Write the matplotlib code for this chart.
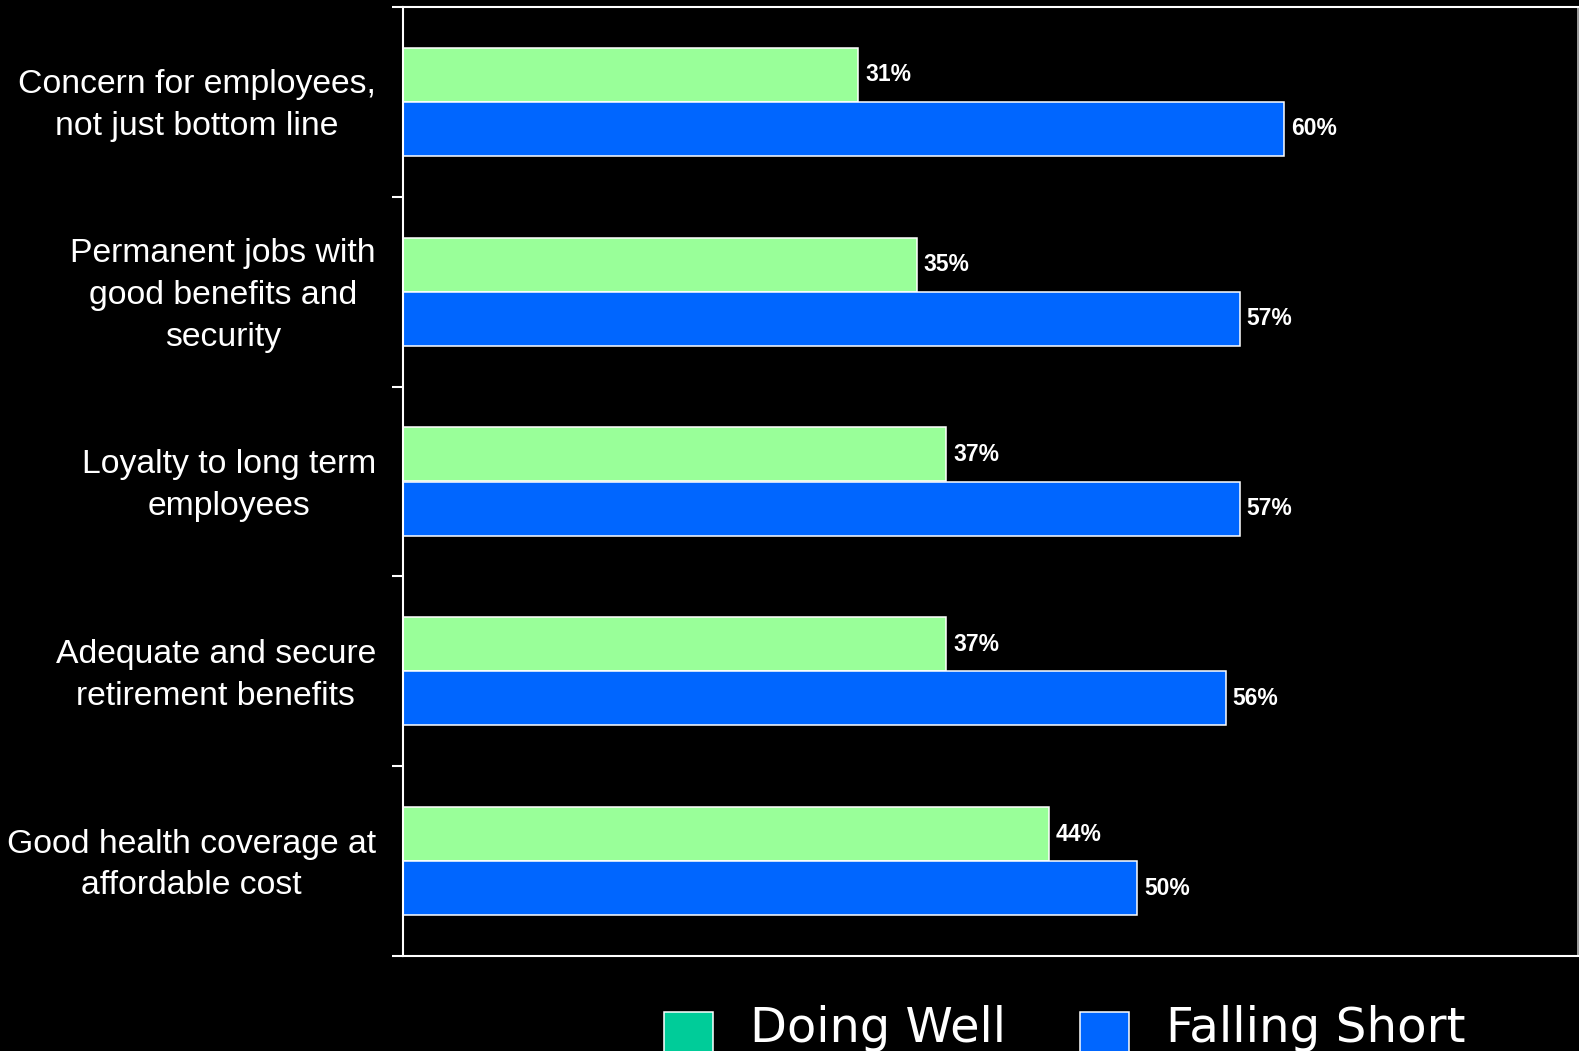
import matplotlib
matplotlib.use('Agg')
import matplotlib.pyplot as plt
from matplotlib.patches import Rectangle
from matplotlib.transforms import ScaledTranslation
import numpy as np

categories = [
    'Concern for employees,\nnot just bottom line',
    'Permanent jobs with\ngood benefits and\nsecurity',
    'Loyalty to long term\nemployees',
    'Adequate and secure\nretirement benefits',
    'Good health coverage at\naffordable cost',
]
doing_well = [31, 35, 37, 37, 44]
falling_short = [60, 57, 57, 56, 50]
series_names = ['Doing Well', 'Falling Short']

bar_green = '#99FF99'
legend_green = '#00CC99'
blue = '#0066FF'

fig = plt.figure(figsize=(15.79, 10.51), dpi=100, facecolor='black')
ax = fig.add_axes([403/1579, 1-956/1051, 1175/1579, 949/1051])
ax.set_facecolor('black')

n = len(categories)
y = np.arange(n)
h = 0.285
ax.barh(y - h/2, doing_well, height=h, color=bar_green, edgecolor='white', linewidth=1.1)
ax.barh(y + h/2, falling_short, height=h, color=blue, edgecolor='white', linewidth=1.1)

for i in range(n):
    ax.text(doing_well[i] + 0.45, y[i] - h/2, '%d%%' % doing_well[i], color='white',
            fontsize=16.5, fontweight='bold', va='center', ha='left', family='Liberation Sans')
    ax.text(falling_short[i] + 0.45, y[i] + h/2, '%d%%' % falling_short[i], color='white',
            fontsize=16.5, fontweight='bold', va='center', ha='left', family='Liberation Sans')

ax.set_xlim(0, 80)
ax.set_ylim(n - 0.5, -0.5)

# boundary ticks (major) and label ticks (minor)
ax.set_yticks(np.arange(n + 1) - 0.5)
ax.set_yticklabels([])
ax.set_yticks(y, minor=True)
ax.set_yticklabels(categories, minor=True, fontsize=24.3, color='white',
                   family='Liberation Sans', multialignment='center', linespacing=1.45)
ax.tick_params(axis='y', which='major', length=8, width=1.5, color='white', direction='out')
ax.tick_params(axis='y', which='minor', length=0, pad=19.5)
ax.set_xticks([])
shift = ScaledTranslation(0, 5/100, fig.dpi_scale_trans)
for lab in ax.get_yticklabels(minor=True):
    lab.set_transform(lab.get_transform() + shift)

for s in ['left', 'top', 'bottom']:
    ax.spines[s].set_color('white')
    ax.spines[s].set_linewidth(1.5)
ax.spines['right'].set_color('#bbbbbb')
ax.spines['right'].set_linewidth(1.2)

# legend along the bottom edge (partly cut off)
fig.patches.append(Rectangle((664/1579, -0.03), 49/1579, 0.03 + 1 - 1012/1051,
                             transform=fig.transFigure, facecolor=legend_green,
                             edgecolor='white', linewidth=1.1))
fig.patches.append(Rectangle((1080/1579, -0.03), 49/1579, 0.03 + 1 - 1012/1051,
                             transform=fig.transFigure, facecolor=blue,
                             edgecolor='white', linewidth=1.1))
fig.text(750/1579, 1 - 1042/1051, series_names[0], color='white', fontsize=34.5,
         family='DejaVu Sans', va='baseline', ha='left')
fig.text(1166/1579, 1 - 1042/1051, series_names[1], color='white', fontsize=34.8,
         family='DejaVu Sans', va='baseline', ha='left')

fig.savefig('out.png', dpi=100, facecolor='black')
